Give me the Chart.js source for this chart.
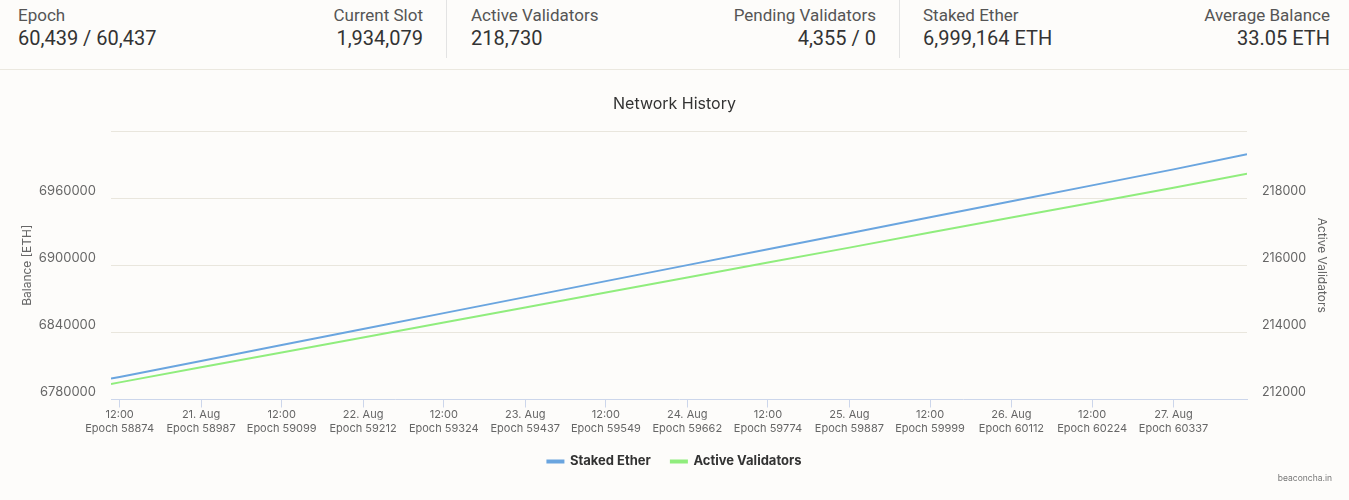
<!DOCTYPE html>
<html><head><meta charset="utf-8">
<script src="https://cdn.jsdelivr.net/npm/chart.js@4.4.1/dist/chart.umd.min.js"></script>
<style>
html,body{margin:0;padding:0;background:#fdfcfa;width:1349px;height:500px;overflow:hidden;font-family:Roboto,sans-serif;}
#hdr{position:absolute;left:0;top:0;width:1349px;height:69px;border-bottom:1px solid #ebe8df;}
.lab{position:absolute;top:5px;font-size:17px;line-height:20px;color:#555;white-space:nowrap}
.val{position:absolute;top:26px;font-size:20px;line-height:24px;color:#333;white-space:nowrap}
.sep{position:absolute;top:0;width:1px;height:58px;background:#e3e3e3}
#wrap{position:absolute;left:0;top:71px;width:1349px;height:429px}
#credit{position:absolute;right:17px;top:473px;font:8.5px Inter,sans-serif;color:#777;white-space:nowrap}
</style></head>
<body>
<div id="hdr"></div>
<div id="wrap"><canvas id="c" width="1349" height="429"></canvas></div>
<div id="credit">beaconcha.in</div>
<script>
// Header stats
const statLabels = ['Epoch','Current Slot','Active Validators','Pending Validators','Staked Ether','Average Balance'];
const statValues = ['60,439 / 60,437','1,934,079','218,730','4,355 / 0','6,999,164 ETH','33.05 ETH'];

// Chart data
const epochs = [58862, 58874, 58987, 59099, 59212, 59324, 59437, 59549, 59662, 59774, 59887, 59999, 60112, 60224, 60337, 60439];
const stakedEther = [6798700, 6800200, 6814500, 6828700, 6843000, 6857200, 6871500, 6885800, 6900100, 6914300, 6928600, 6942900, 6957200, 6971400, 6985700, 6999164];
const activeValidators = [212460, 212510, 212960, 213400, 213850, 214295, 214740, 215190, 215635, 216080, 216525, 216975, 217420, 217865, 218310, 218730];

// X tick labels
const tickEpochs = [58874, 58987, 59099, 59212, 59324, 59437, 59549, 59662, 59774, 59887, 59999, 60112, 60224, 60337];
const tickDates = ['12:00','21. Aug','12:00','22. Aug','12:00','23. Aug','12:00','24. Aug','12:00','25. Aug','12:00','26. Aug','12:00','27. Aug'];

// Build header
(function(){
  const hdr = document.getElementById('hdr');
  const pos = [
    {left:18},{right:1349-423},{left:471},{right:1349-876},{left:923},{right:1349-1330}
  ];
  statLabels.forEach((l,i)=>{
    const a=document.createElement('div'); a.className='lab'; a.textContent=l;
    const b=document.createElement('div'); b.className='val'; b.textContent=statValues[i];
    for (const k in pos[i]) { a.style[k]=pos[i][k]+'px'; b.style[k]=pos[i][k]+'px'; }
    if (pos[i].right!==undefined){a.style.textAlign='right';b.style.textAlign='right';}
    hdr.appendChild(a); hdr.appendChild(b);
  });
  [446,899].forEach(x=>{const s=document.createElement('div');s.className='sep';s.style.left=x+'px';hdr.appendChild(s);});
})();

Chart.defaults.font.family = 'Inter, sans-serif';
const gridCol = '#e9e6dd';
const axisCol = '#ccd6eb';
const blue = '#6aa5df', green = '#90ed7d';

new Chart(document.getElementById('c'), {
  type: 'line',
  data: {
    datasets: [
      {label:'Staked Ether', data: epochs.map((e,i)=>({x:e,y:stakedEther[i]})), borderColor:blue, backgroundColor:blue, borderWidth:2, pointRadius:0, tension:0, yAxisID:'yBal'},
      {label:'Active Validators', data: epochs.map((e,i)=>({x:e,y:activeValidators[i]})), borderColor:green, backgroundColor:green, borderWidth:2, pointRadius:0, tension:0, yAxisID:'yVal'}
    ]
  },
  options: {
    responsive:false, animation:false,
    layout:{padding:{top:0,left:10,right:10,bottom:22}},
    plugins:{
      tooltip:{enabled:false},
      title:{display:true,text:'Network History',color:'#333',font:{size:16,weight:'normal'},padding:{top:23.4,bottom:17.4}},
      legend:{position:'bottom',labels:{boxWidth:16,boxHeight:2,padding:20,color:'#333',font:{size:13,weight:'bold'}}}
    },
    scales:{
      x:{
        type:'linear', min:epochs[0], max:epochs[epochs.length-1],
        afterBuildTicks:s=>{s.ticks=tickEpochs.map(v=>({value:v}));},
        afterFit:s=>{s.height=35.5;},
        ticks:{autoSkip:false,maxRotation:0,padding:0,color:'#666',font:{size:11,lineHeight:1.3},
          callback:(v,i)=>[tickDates[i],'Epoch '+v]},
        grid:{drawOnChartArea:false,drawTicks:true,tickLength:8,color:axisCol},
        border:{color:axisCol}
      },
      yBal:{
        position:'left', min:6780000, max:7020000,
        afterFit:s=>{s.width=101;},
        ticks:{stepSize:60000,padding:15,labelOffset:-7,color:'#666',font:{size:13},callback:v=> v>=7020000?'':String(v)},
        grid:{drawTicks:false,color:c=> (c.tick && c.tick.value===6780000)?'rgba(0,0,0,0)':gridCol},
        border:{display:false},
        title:{display:true,text:'Balance [ETH]',color:'#666',font:{size:12},padding:{top:10,bottom:0}}
      },
      yVal:{
        position:'right', min:212000, max:220000,
        afterFit:s=>{s.width=92;},
        ticks:{stepSize:2000,padding:15,labelOffset:-7,color:'#666',font:{size:12.5},callback:v=> v>=220000?'':String(v)},
        grid:{display:false,drawTicks:false},
        border:{display:false},
        title:{display:true,text:'Active Validators',color:'#666',font:{size:12},padding:{top:10,bottom:0}}
      }
    }
  }
});
</script>
</body></html>
